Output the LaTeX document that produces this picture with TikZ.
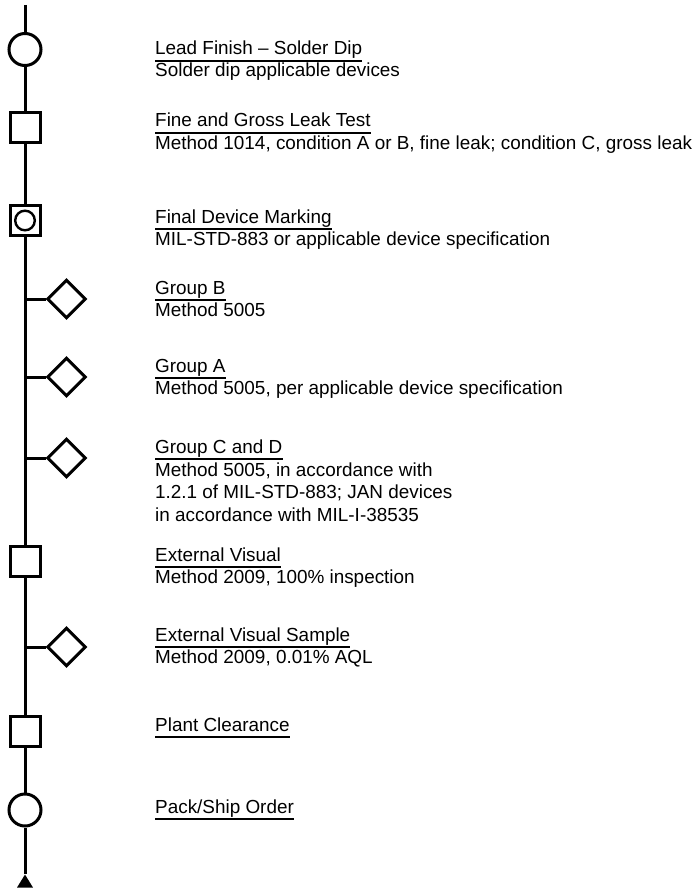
\documentclass[tikz,border=0pt]{standalone}
\usepackage{fontspec}
\setmainfont{Liberation Sans}
\usetikzlibrary{shapes.geometric}
\begin{document}
\begin{tikzpicture}[x=1pt,y=-1pt,
  flow/.style={line width=3pt},
  circ/.style={circle, draw, line width=3pt, fill=white, minimum size=32pt, inner sep=0pt},
  sqbox/.style={rectangle, draw, line width=3pt, fill=white, minimum size=30pt, inner sep=0pt},
  dia/.style={diamond, aspect=1, draw, line width=3pt, fill=white, minimum size=38.8pt, inner sep=0pt},
  innerc/.style={circle, draw, line width=2.4pt, minimum size=19.6pt, inner sep=0pt},
  tri/.style={isosceles triangle, isosceles triangle stretches, shape border rotate=90, fill=black, draw=none, inner sep=0pt, minimum height=13pt, minimum width=16pt},
  txt/.style={anchor=base west, inner sep=0pt, font=\fontsize{18.9}{22}\selectfont},
  uline/.style={line width=1.2pt}]
\useasboundingbox (0,0) rectangle (698,888);

% shapes
\coordinate (top) at (25,5);
\node[circ] (c1) at (25,49.5) {};
\node[sqbox] (q1) at (25,127.5) {};
\node[sqbox] (q2) at (25,220.5) {};
\node[innerc] (q2c) at (25,220.5) {};
\coordinate (jB) at (25,299);
\node[dia] (dB) at (66.5,299) {};
\coordinate (jA) at (25,377);
\node[dia] (dA) at (66.5,377) {};
\coordinate (jC) at (25,458);
\node[dia] (dC) at (66.5,458) {};
\node[sqbox] (q3) at (25,561.5) {};
\coordinate (jE) at (25,647);
\node[dia] (dE) at (66.5,647) {};
\node[sqbox] (q4) at (25,731.5) {};
\node[circ] (c2) at (25,810) {};
\node[tri, anchor=apex] (arr) at (25,874) {};

% connectors
\draw[flow] (top) -- (c1);
\draw[flow] (c1) -- (q1);
\draw[flow] (q1) -- (q2);
\draw[flow] (q2.south) -- (jB) -- (jA) -- (jC) -- (q3.north);
\draw[flow] (jB) -- (dB);
\draw[flow] (jA) -- (dA);
\draw[flow] (jC) -- (dC);
\draw[flow] (q3.south) -- (jE) -- (q4.north);
\draw[flow] (jE) -- (dE);
\draw[flow] (q4) -- (c2);
\draw[flow] (c2) -- (arr.apex);

% texts
\node[txt] (t1) at (155,55) {Lead Finish – Solder Dip};
\node[txt] (s1) at (155,77) {Solder dip applicable devices};
\node[txt] (t2) at (155,127) {Fine and Gross Leak Test};
\node[txt] (s2) at (155,149) {Method 1014, condition A or B, fine leak; condition C, gross leak};
\node[txt] (t3) at (155,223) {Final Device Marking};
\node[txt] (s3) at (155,245) {MIL-STD-883 or applicable device specification};
\node[txt] (t4) at (155,294) {Group B};
\node[txt] (s4) at (155,316) {Method 5005};
\node[txt] (t5) at (155,372) {Group A};
\node[txt] (s5) at (155,394) {Method 5005, per applicable device specification};
\node[txt] (t6) at (155,453) {Group C and D};
\node[txt] (s6a) at (155,476) {Method 5005, in accordance with};
\node[txt] (s6b) at (155,498.5) {1.2.1 of MIL-STD-883; JAN devices};
\node[txt] (s6c) at (155,521) {in accordance with MIL-I-38535};
\node[txt] (t7) at (155,561) {External Visual};
\node[txt] (s7) at (155,583) {Method 2009, 100\% inspection};
\node[txt] (t8) at (155,641) {External Visual Sample};
\node[txt] (s8) at (155,663) {Method 2009, 0.01\% AQL};
\node[txt] (t9) at (155,731) {Plant Clearance};
\node[txt] (t10) at (155,813) {Pack/Ship Order};

% underlines
\foreach \n in {t1,t2,t3,t4,t5,t6,t7,t8,t9,t10}{
  \draw[uline] ([yshift=-6pt]\n.base west) -- ([yshift=-6pt]\n.base east);
}
\end{tikzpicture}
\end{document}
